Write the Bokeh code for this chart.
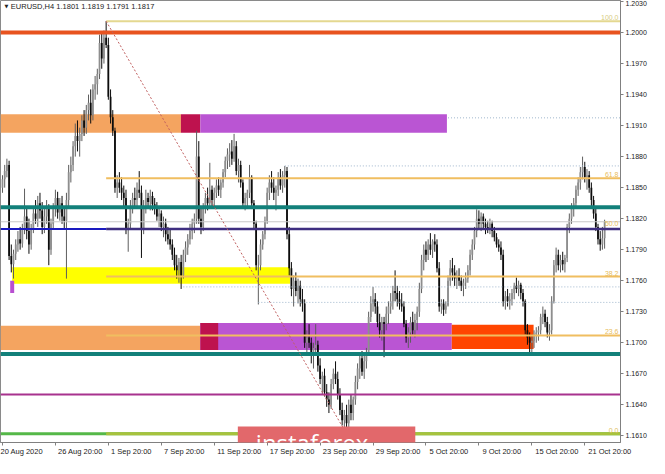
from bokeh.plotting import figure
from bokeh.models import Range1d, FixedTicker, Label, PrintfTickFormatter
from bokeh.embed import file_html
from bokeh.resources import INLINE
from bokeh.core.properties import value

# ---------------- data (EURUSD H4) ----------------
first_open = 1.1850
closes = [
    1.1858, 1.1866, 1.1872, 1.1784, 1.1776, 1.1786, 1.1795, 1.1800, 1.1796, 1.1810,
    1.1822, 1.1808, 1.1795, 1.1810, 1.1825, 1.1820, 1.1835, 1.1828, 1.1812, 1.1822,
    1.1830, 1.1790, 1.1815, 1.1830, 1.1840, 1.1826, 1.1835, 1.1822, 1.1818, 1.1838,
    1.1865, 1.1872, 1.1890, 1.1900, 1.1895, 1.1902, 1.1915, 1.1908, 1.1925, 1.1932,
    1.1920, 1.1945, 1.1950, 1.1960, 1.1990, 1.1975, 1.1995, 1.1988, 1.1938, 1.1918,
    1.1905, 1.1850, 1.1855, 1.1850, 1.1845, 1.1840, 1.1810, 1.1815, 1.1832, 1.1840,
    1.1838, 1.1848, 1.1845, 1.1810, 1.1832, 1.1840, 1.1836, 1.1842, 1.1834, 1.1830,
    1.1822, 1.1825, 1.1812, 1.1815, 1.1805, 1.1800, 1.1795, 1.1785, 1.1775, 1.1770,
    1.1778, 1.1765, 1.1785, 1.1792, 1.1800, 1.1808, 1.1815, 1.1820, 1.1880, 1.1820,
    1.1812, 1.1830, 1.1840, 1.1835, 1.1848, 1.1838, 1.1845, 1.1852, 1.1848, 1.1855,
    1.1865, 1.1876, 1.1882, 1.1885, 1.1878, 1.1890, 1.1866, 1.1872, 1.1855, 1.1835,
    1.1840, 1.1845, 1.1860, 1.1835, 1.1815, 1.1775, 1.1775, 1.1795, 1.1805, 1.1818,
    1.1845, 1.1855, 1.1850, 1.1845, 1.1848, 1.1860, 1.1852, 1.1862, 1.1866, 1.1805,
    1.1772, 1.1752, 1.1760, 1.1750, 1.1755, 1.1742, 1.1738, 1.1700, 1.1705, 1.1700,
    1.1688, 1.1695, 1.1698, 1.1678, 1.1665, 1.1668, 1.1652, 1.1645, 1.1640, 1.1660,
    1.1670, 1.1665, 1.1650, 1.1635, 1.1625, 1.1630, 1.1622, 1.1640, 1.1632, 1.1645,
    1.1662, 1.1675, 1.1685, 1.1672, 1.1682, 1.1690, 1.1725, 1.1738, 1.1742, 1.1735,
    1.1720, 1.1712, 1.1720, 1.1718, 1.1728, 1.1735, 1.1740, 1.1750, 1.1748, 1.1742,
    1.1738, 1.1735, 1.1718, 1.1705, 1.1710, 1.1720, 1.1712, 1.1722, 1.1730, 1.1752,
    1.1780, 1.1790, 1.1785, 1.1795, 1.1790, 1.1798, 1.1795, 1.1772, 1.1735, 1.1738,
    1.1732, 1.1736, 1.1760, 1.1772, 1.1768, 1.1762, 1.1765, 1.1760, 1.1755, 1.1758,
    1.1762, 1.1770, 1.1785, 1.1795, 1.1808, 1.1820, 1.1815, 1.1822, 1.1815, 1.1812,
    1.1810, 1.1815, 1.1808, 1.1802, 1.1795, 1.1792, 1.1785, 1.1740, 1.1745, 1.1740,
    1.1742, 1.1748, 1.1755, 1.1752, 1.1756, 1.1748, 1.1740, 1.1712, 1.1705, 1.1700,
    1.1702, 1.1708, 1.1710, 1.1712, 1.1725, 1.1728, 1.1720, 1.1710, 1.1712, 1.1740,
    1.1775, 1.1785, 1.1775, 1.1780, 1.1776, 1.1782, 1.1812, 1.1820, 1.1830, 1.1835,
    1.1848, 1.1855, 1.1865, 1.1870, 1.1860, 1.1862, 1.1850, 1.1838, 1.1825, 1.1812,
    1.1800, 1.1795, 1.1801, 1.1817,
]
highs = [
    1.1862, 1.1872, 1.1878, 1.1876, 1.1795, 1.1790, 1.1800, 1.1808, 1.1812, 1.1815,
    1.1849, 1.1830, 1.1820, 1.1815, 1.1830, 1.1838, 1.1842, 1.1845, 1.1836, 1.1830,
    1.1838, 1.1834, 1.1820, 1.1835, 1.1848, 1.1846, 1.1840, 1.1842, 1.1832, 1.1845,
    1.1872, 1.1880, 1.1895, 1.1912, 1.1915, 1.1908, 1.1920, 1.1925, 1.1930, 1.1940,
    1.1945, 1.1950, 1.1958, 1.1965, 1.1998, 1.2000, 1.2002, 1.2011, 1.1995, 1.1945,
    1.1925, 1.1908, 1.1862, 1.1865, 1.1860, 1.1852, 1.1848, 1.1820, 1.1838, 1.1845,
    1.1850, 1.1855, 1.1866, 1.1852, 1.1838, 1.1848, 1.1845, 1.1848, 1.1846, 1.1840,
    1.1836, 1.1830, 1.1828, 1.1822, 1.1820, 1.1812, 1.1810, 1.1800, 1.1792, 1.1785,
    1.1782, 1.1785, 1.1790, 1.1798, 1.1805, 1.1815, 1.1820, 1.1825, 1.1905, 1.1895,
    1.1830, 1.1835, 1.1845, 1.1850, 1.1874, 1.1852, 1.1850, 1.1858, 1.1860, 1.1858,
    1.1868, 1.1880, 1.1888, 1.1893, 1.1896, 1.1902, 1.1895, 1.1878, 1.1876, 1.1858,
    1.1845, 1.1848, 1.1872, 1.1862, 1.1838, 1.1818, 1.1785, 1.1800, 1.1808, 1.1822,
    1.1850, 1.1862, 1.1866, 1.1860, 1.1852, 1.1865, 1.1868, 1.1866, 1.1871, 1.1870,
    1.1812, 1.1778, 1.1765, 1.1768, 1.1762, 1.1760, 1.1752, 1.1742, 1.1712, 1.1718,
    1.1705, 1.1700, 1.1718, 1.1702, 1.1685, 1.1672, 1.1675, 1.1660, 1.1652, 1.1665,
    1.1675, 1.1682, 1.1672, 1.1656, 1.1642, 1.1635, 1.1640, 1.1645, 1.1650, 1.1648,
    1.1668, 1.1680, 1.1690, 1.1692, 1.1688, 1.1695, 1.1730, 1.1745, 1.1754, 1.1748,
    1.1740, 1.1728, 1.1725, 1.1725, 1.1735, 1.1740, 1.1748, 1.1755, 1.1770, 1.1755,
    1.1750, 1.1748, 1.1740, 1.1722, 1.1715, 1.1725, 1.1730, 1.1728, 1.1735, 1.1758,
    1.1785, 1.1795, 1.1798, 1.1800, 1.1806, 1.1800, 1.1805, 1.1800, 1.1778, 1.1742,
    1.1742, 1.1740, 1.1765, 1.1780, 1.1782, 1.1775, 1.1770, 1.1772, 1.1765, 1.1762,
    1.1768, 1.1775, 1.1790, 1.1800, 1.1812, 1.1829, 1.1828, 1.1826, 1.1825, 1.1820,
    1.1818, 1.1820, 1.1818, 1.1812, 1.1806, 1.1800, 1.1798, 1.1790, 1.1750, 1.1752,
    1.1748, 1.1752, 1.1758, 1.1763, 1.1760, 1.1758, 1.1752, 1.1742, 1.1718, 1.1710,
    1.1708, 1.1712, 1.1715, 1.1716, 1.1728, 1.1735, 1.1732, 1.1725, 1.1718, 1.1745,
    1.1780, 1.1792, 1.1790, 1.1785, 1.1788, 1.1785, 1.1815, 1.1825, 1.1835, 1.1840,
    1.1852, 1.1860, 1.1870, 1.1880, 1.1875, 1.1868, 1.1866, 1.1855, 1.1842, 1.1830,
    1.1815, 1.1808, 1.1812, 1.1819,
]
lows = [
    1.1845, 1.1850, 1.1860, 1.1780, 1.1768, 1.1762, 1.1780, 1.1788, 1.1790, 1.1792,
    1.1805, 1.1800, 1.1786, 1.1790, 1.1806, 1.1815, 1.1812, 1.1820, 1.1805, 1.1806,
    1.1815, 1.1775, 1.1785, 1.1810, 1.1822, 1.1820, 1.1818, 1.1815, 1.1810, 1.1762,
    1.1830, 1.1855, 1.1866, 1.1880, 1.1885, 1.1880, 1.1895, 1.1900, 1.1902, 1.1915,
    1.1912, 1.1915, 1.1935, 1.1940, 1.1955, 1.1965, 1.1970, 1.1985, 1.1935, 1.1912,
    1.1900, 1.1845, 1.1840, 1.1845, 1.1838, 1.1830, 1.1805, 1.1788, 1.1810, 1.1825,
    1.1832, 1.1830, 1.1840, 1.1782, 1.1805, 1.1825, 1.1830, 1.1828, 1.1828, 1.1824,
    1.1818, 1.1812, 1.1808, 1.1802, 1.1798, 1.1795, 1.1790, 1.1780, 1.1770, 1.1762,
    1.1758, 1.1752, 1.1762, 1.1778, 1.1785, 1.1795, 1.1800, 1.1806, 1.1815, 1.1815,
    1.1805, 1.1808, 1.1825, 1.1828, 1.1830, 1.1830, 1.1832, 1.1840, 1.1842, 1.1840,
    1.1850, 1.1860, 1.1868, 1.1870, 1.1872, 1.1875, 1.1862, 1.1855, 1.1850, 1.1830,
    1.1828, 1.1832, 1.1840, 1.1830, 1.1810, 1.1770, 1.1737, 1.1770, 1.1790, 1.1800,
    1.1815, 1.1838, 1.1845, 1.1838, 1.1828, 1.1842, 1.1848, 1.1845, 1.1850, 1.1800,
    1.1765, 1.1745, 1.1735, 1.1745, 1.1738, 1.1735, 1.1730, 1.1695, 1.1688, 1.1695,
    1.1680, 1.1675, 1.1690, 1.1672, 1.1660, 1.1650, 1.1648, 1.1638, 1.1632, 1.1636,
    1.1655, 1.1660, 1.1645, 1.1630, 1.1620, 1.1614, 1.1612, 1.1618, 1.1625, 1.1625,
    1.1640, 1.1655, 1.1665, 1.1668, 1.1665, 1.1675, 1.1688, 1.1720, 1.1730, 1.1728,
    1.1715, 1.1705, 1.1702, 1.1686, 1.1712, 1.1718, 1.1728, 1.1732, 1.1740, 1.1735,
    1.1732, 1.1730, 1.1715, 1.1700, 1.1695, 1.1700, 1.1708, 1.1705, 1.1712, 1.1725,
    1.1748, 1.1770, 1.1778, 1.1780, 1.1785, 1.1782, 1.1788, 1.1768, 1.1730, 1.1728,
    1.1726, 1.1728, 1.1735, 1.1755, 1.1760, 1.1755, 1.1752, 1.1755, 1.1750, 1.1745,
    1.1752, 1.1758, 1.1765, 1.1780, 1.1790, 1.1802, 1.1810, 1.1808, 1.1810, 1.1805,
    1.1806, 1.1805, 1.1802, 1.1798, 1.1792, 1.1788, 1.1780, 1.1735, 1.1732, 1.1735,
    1.1732, 1.1736, 1.1742, 1.1748, 1.1745, 1.1742, 1.1735, 1.1708, 1.1698, 1.1690,
    1.1689, 1.1695, 1.1700, 1.1702, 1.1708, 1.1718, 1.1715, 1.1705, 1.1702, 1.1708,
    1.1738, 1.1768, 1.1770, 1.1768, 1.1770, 1.1768, 1.1778, 1.1806, 1.1815, 1.1822,
    1.1832, 1.1842, 1.1848, 1.1858, 1.1855, 1.1848, 1.1845, 1.1832, 1.1820, 1.1808,
    1.1795, 1.1789, 1.1790, 1.1791,
]

x_tick_bars = [0, 24, 48, 72, 96, 120, 144, 168, 192, 216, 240, 264]
x_tick_labels = ["20 Aug 2020", "26 Aug 20:00", "1 Sep 20:00", "7 Sep 20:00",
                 "11 Sep 20:00", "17 Sep 20:00", "23 Sep 20:00", "29 Sep 20:00",
                 "5 Oct 20:00", "9 Oct 20:00", "15 Oct 20:00", "21 Oct 20:00"]
y_ticks = [1.1610, 1.1640, 1.1670, 1.1700, 1.1730, 1.1760, 1.1790, 1.1820,
           1.1850, 1.1880, 1.1910, 1.1940, 1.1970, 1.2000, 1.2030]

# horizontal levels (full width)
level_prices = [1.2000, 1.1831, 1.1817, 1.1689, 1.1650, 1.1612]
level_colors = ["#E8531F", "#12807A", "#C8C8C8", "#12807A", "#A8328E", "#55B848"]
level_widths = [4, 4, 1, 4, 2, 3]
blue_level = 1.1810

# Fibonacci grid, anchored at the 1 Sep high and the 25 Sep low
fib_start_bar = 47
fib_end_bar = 156
fib_prices = [1.1612, 1.1707, 1.1764, 1.1812, 1.1859, 1.2011]
fib_labels = ["0.0", "23.6", "38.2", "50.0", "61.8", "100.0"]

# dotted levels: price, first bar
dot_prices = [1.19175, 1.1871, 1.1754, 1.1739]
dot_start = [202, 128, 82, 116]

# zones: left bar, right bar, bottom, top, colour
zone_left = [-0.9, 80.9, 89.7, 4.4, 3.5, -0.9, 89.7, 89.7, 203.7]
zone_right = [80.9, 89.7, 201.5, 130.4, 5.3, 89.7, 203.7, 97.8, 240.8]
zone_bottom = [1.1903, 1.1903, 1.1903, 1.1757, 1.1748, 1.1693, 1.1693, 1.1693, 1.1694]
zone_top = [1.1921, 1.1921, 1.1921, 1.1773, 1.1760, 1.17165, 1.1719, 1.1719, 1.17175]
zone_colors = ["#F4A460", "#BE124E", "#BA55D3", "#FFFF00", "#B84FD0",
               "#F4A460", "#BA55D3", "#BE124E", "#FF4500"]

# price tags on the right scale
tag_prices = [1.2000, 1.1817, 1.1810, 1.1650]
tag_colors = ["#E8531F", "#000000", "#1616E0", "#B0308E"]

# ---------------- figure ----------------
X0, X1 = -0.9, 280.2
Y0, Y1 = 1.16035, 1.2031

p = figure(width=649, height=458, output_backend="svg", toolbar_location=None,
           x_range=Range1d(X0, X1), y_range=Range1d(Y0, Y1),
           y_axis_location="right", min_border_left=0, min_border_top=0,
           min_border_right=0, min_border_bottom=0)
p.background_fill_color = "white"
p.border_fill_color = "white"
p.outline_line_color = "#8a8a8a"
p.xgrid.visible = False
p.ygrid.visible = False

lab_font = "Liberation Sans"
p.yaxis.ticker = FixedTicker(ticks=y_ticks)
p.yaxis.formatter = PrintfTickFormatter(format="%.4f")
p.yaxis.major_label_text_font = lab_font
p.yaxis.major_label_text_font_size = "7px"
p.yaxis.major_label_text_color = "#222222"
p.yaxis.major_tick_out = 3
p.yaxis.major_tick_in = 0
p.yaxis.minor_tick_line_color = None
p.yaxis.axis_line_color = "#808080"
p.yaxis.major_tick_line_color = "#808080"
p.yaxis.major_label_standoff = 2

# MT4 writes the time label to the right of its tick: pad each label on the
# left with no-break spaces so that the centred string starts at the tick
# (the first one is pushed against the left edge anyway)
NBSP = "\u00A0"
p.xaxis.ticker = FixedTicker(ticks=x_tick_bars)
p.xaxis.major_label_overrides = {b: (t if k == 0 else NBSP * (2 * len(t)) + t)
                                 for k, (b, t) in enumerate(zip(x_tick_bars, x_tick_labels))}
p.xaxis.major_label_text_font = lab_font
p.xaxis.major_label_text_font_size = "7.5px"
p.xaxis.major_label_text_color = "#222222"
p.xaxis.major_tick_out = 3
p.xaxis.major_tick_in = 0
p.xaxis.minor_tick_line_color = None
p.xaxis.axis_line_color = "#808080"
p.xaxis.major_tick_line_color = "#808080"
p.xaxis.major_label_standoff = 1

# zones
p.quad(left=zone_left, right=zone_right, bottom=zone_bottom, top=zone_top,
       fill_color=zone_colors, line_color=None)

# candles
n = len(closes)
idx = list(range(n))
opens = [first_open] + closes[:-1]
body_top = [max(o, c) for o, c in zip(opens, closes)]
body_bot = [min(o, c) for o, c in zip(opens, closes)]
up = [c >= o for o, c in zip(opens, closes)]
body_col = ["#8e8e8e" if u else "#0c0c0c" for u in up]
wick_col = ["#5e5e5e" if u else "#0c0c0c" for u in up]
p.segment(x0=idx, y0=lows, x1=idx, y1=highs, line_color=wick_col, line_width=1)
p.vbar(x=idx, width=0.8, top=body_top, bottom=body_bot,
       fill_color=body_col, line_color=None)

# full-width levels
for price, col, w in zip(level_prices, level_colors, level_widths):
    p.segment(x0=[X0], y0=[price], x1=[X1], y1=[price], line_color=col, line_width=w)

# blue 1.1810 line
p.segment(x0=[X0], y0=[blue_level], x1=[fib_start_bar], y1=[blue_level],
          line_color="#1A1AC0", line_width=2)
p.segment(x0=[fib_start_bar], y0=[blue_level], x1=[X1], y1=[blue_level],
          line_color="#3E2E80", line_width=2.5)

# fibonacci lines
fib_cols = ["#A8C23C", "#F0BE60", "#F0BE60", "#3E2E80", "#F0BE60", "#E4D890"]
fib_txt_cols = ["#E0C060", "#E8BC5C", "#E8BC5C", "#E8BC5C", "#E8BC5C", "#D8CC80"]
fib_w = [3, 2, 2, 0, 2, 2]
for price, col, w in zip(fib_prices, fib_cols, fib_w):
    if w > 0:
        p.segment(x0=[fib_start_bar], y0=[price], x1=[X1], y1=[price],
                  line_color=col, line_width=w)
p.text(x=[X1 - 0.9] * len(fib_prices), y=fib_prices, text=fib_labels,
       text_align="right", text_baseline="bottom", text_font=value(lab_font),
       text_font_size="7px", text_color=fib_txt_cols, y_offset=-1)

# dotted levels
for price, start in zip(dot_prices, dot_start):
    p.segment(x0=[start], y0=[price], x1=[X1], y1=[price],
              line_color="#9FB6CC", line_width=1, line_dash="1 2")

# fib diagonal
p.segment(x0=[fib_start_bar], y0=[fib_prices[-1]], x1=[fib_end_bar], y1=[fib_prices[0]],
          line_color="#C06060", line_width=1, line_dash="2 2")

# price tags
for price, col in zip(tag_prices, tag_colors):
    p.add_layout(Label(x=X1 + 0.3, y=price, text="%.4f" % price, text_color="white",
                       text_font=lab_font, text_font_size="7px",
                       text_baseline="middle", text_align="left",
                       background_fill_color=col,
                       padding=dict(left=3, right=4, top=1, bottom=1)))

# header
p.add_layout(Label(x=0.9, y=1.20255, text="\u25BC", text_font="DejaVu Sans",
                   text_font_size="5px", text_color="#222222", text_baseline="middle"))
p.add_layout(Label(x=3.8, y=1.20255,
                   text="EURUSD,H4  %.4f %.4f %.4f %.4f" % (opens[-1], highs[-1], lows[-1], closes[-1]),
                   text_font=lab_font, text_font_size="7.5px", text_color="#222222",
                   text_baseline="middle"))

# logo (box top-left corner anchored)
p.add_layout(Label(x=106.7, y=1.16190, text="instaforex", text_color="white",
                   text_font="Open Sans", text_font_size="24px",
                   anchor="top_left",
                   background_fill_color="#E2686B",
                   padding=dict(left=18, right=47, top=0, bottom=4)))

open("out.html", "w").write(file_html(p, INLINE))
